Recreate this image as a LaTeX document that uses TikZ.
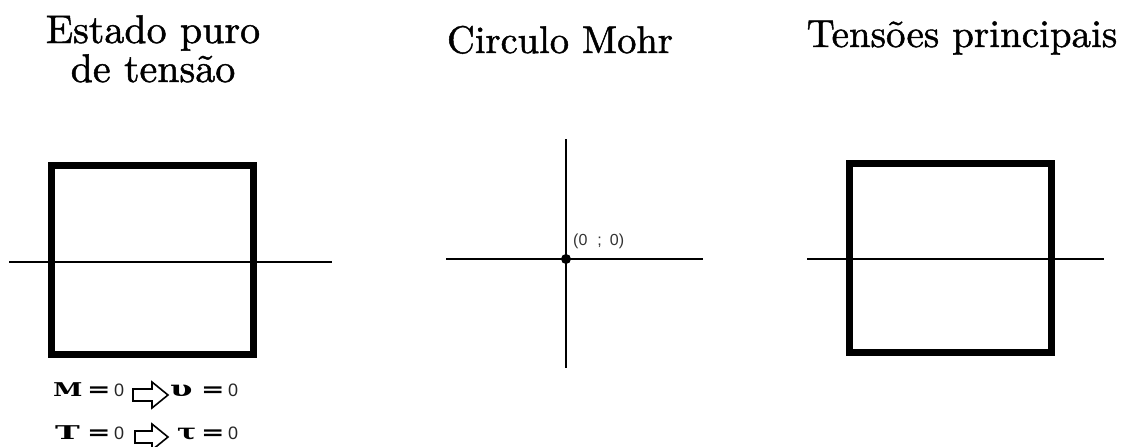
\documentclass[tikz,border=0pt]{standalone}
\usepackage{fontspec}
\usepackage{graphicx}
\newfontfamily\sansf{Liberation Sans}
\newfontfamily\slabbf{DejaVu Serif Bold}
\newfontfamily\eqf{DejaVu Sans Bold}
\newfontfamily\titlef{Latin Modern Roman}[FakeBold=1.2]
\newcommand{\wideeq}{\scalebox{1.4}[1]{=}}
\begin{document}
\begin{tikzpicture}[x=1pt,y=-1pt,
  title/.style={anchor=base, inner sep=0pt, font=\titlef},
  thickbox/.style={line width=7pt, line join=miter},
  axis/.style={line width=1.8pt},
  letter/.style={anchor=base west, inner sep=0pt, font=\slabbf\fontsize{19}{19}\selectfont},
  eq/.style={anchor=base west, inner sep=0pt, font=\eqf\fontsize{20}{20}\selectfont},
  zero/.style={anchor=base west, inner sep=0pt, text=black!85, font=\sansf\fontsize{18}{18}\selectfont},
  hollowarrow/.style={line width=1.6pt, line join=miter}
]
\useasboundingbox (0,0) rectangle (1122,447);

% titles
\node[title] (t1a) at (153,43) {\scalebox{4}{Estado puro}};
\node[title] (t1b) at (153,82) {\scalebox{4}{de tensão}};
\node[title] (t2) at (560,53) {\scalebox{3.85}{Circulo Mohr}};
\node[title] (t3) at (962,47) {\scalebox{3.9}{Tensões principais}};

% left: pure state of stress
\coordinate (l1) at (9,262);
\coordinate (l2) at (332,262);
\draw[thickbox] (51.5,165.5) rectangle (253.5,354.5);
\draw[axis] (l1) -- (l2);

% middle: Mohr circle axes
\coordinate (ml) at (446,259);
\coordinate (mr) at (703,259);
\coordinate (mt) at (566,139);
\coordinate (mb) at (566,368);
\draw[axis] (ml) -- (mr);
\draw[axis] (mt) -- (mb);
\node[circle, fill, inner sep=0pt, minimum size=10pt] (o) at (566,259) {};
\node[anchor=base west, inner sep=0pt, text=black!80, font=\sansf\fontsize{16}{16}\selectfont] (lbl) at (573,245) {(0\hspace{10pt};\hspace{8pt}0)};

% right: principal stresses
\coordinate (r1) at (807,259);
\coordinate (r2) at (1104,259);
\draw[thickbox] (849.5,163.5) rectangle (1051.5,352.5);
\draw[axis] (r1) -- (r2);

% bottom relations
\node[letter] (m) at (53,396) {\scalebox{1.4}[1]{M}};
\node[eq] (eqa) at (87,396) {\wideeq};
\node[zero] (za) at (114,396) {0};
\draw[hollowarrow] (133,389) -- (152,389) -- (152,382) -- (168,395) -- (152,408) -- (152,401) -- (133,401) -- cycle;
\node[letter] (u) at (170,396) {\scalebox{1.7}[1.15]{υ}};
\node[eq] (eqb) at (201,396) {\wideeq};
\node[zero] (zb) at (228,396) {0};

\node[letter] (t) at (55,439) {\scalebox{1.75}[1]{T}};
\node[eq] (eqc) at (87,439) {\wideeq};
\node[zero] (zc) at (114,439) {0};
\draw[hollowarrow] (135,431) -- (152,431) -- (152,424) -- (168,437) -- (152,450) -- (152,443) -- (135,443) -- cycle;
\node[letter] (tau) at (177,439) {\scalebox{1.5}[1.15]{τ}};
\node[eq] (eqd) at (201,439) {\wideeq};
\node[zero] (zd) at (228,439) {0};
\end{tikzpicture}
\end{document}
